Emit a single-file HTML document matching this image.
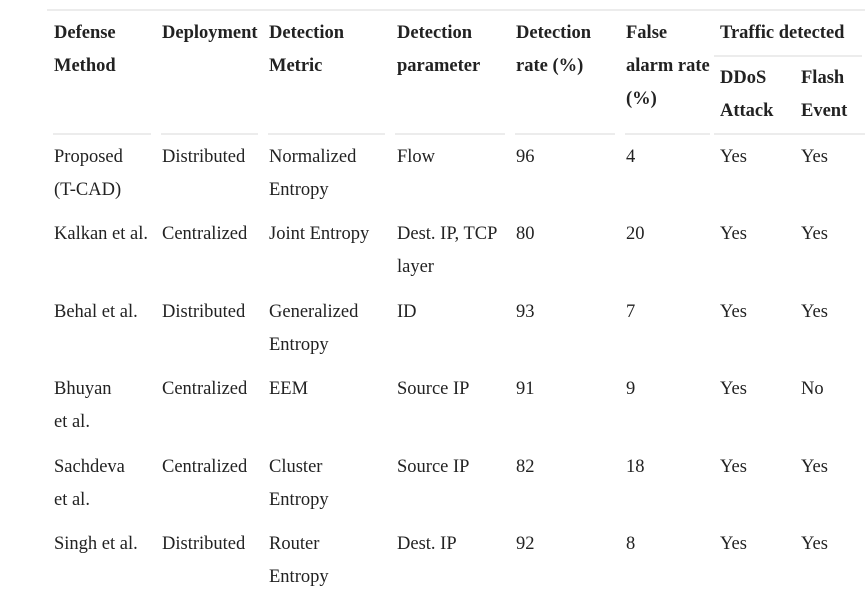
<!DOCTYPE html>
<html><head><meta charset="utf-8"><style>
body{margin:0;width:865px;height:597px;background:#fff;position:relative;overflow:hidden;font-family:"Liberation Serif",serif;font-size:18.5px;color:#222}
.t{position:absolute;line-height:33px;white-space:nowrap;margin-top:2px}
.h{font-weight:bold}
.l{position:absolute;height:2px;background:#ececec}
</style></head><body>
<div class="l" style="left:47px;top:9px;width:818px"></div>
<div class="l" style="left:714px;top:55px;width:148px"></div>
<div class="l" style="left:53px;top:133px;width:98px"></div>
<div class="l" style="left:161px;top:133px;width:97px"></div>
<div class="l" style="left:268px;top:133px;width:117px"></div>
<div class="l" style="left:395px;top:133px;width:110px"></div>
<div class="l" style="left:515px;top:133px;width:100px"></div>
<div class="l" style="left:625px;top:133px;width:85px"></div>
<div class="l" style="left:714px;top:133px;width:151px"></div>

<div class="t h" style="left:54px;top:15px">Defense<br>Method</div>
<div class="t h" style="left:162px;top:15px">Deployment</div>
<div class="t h" style="left:269px;top:15px">Detection<br>Metric</div>
<div class="t h" style="left:397px;top:15px">Detection<br>parameter</div>
<div class="t h" style="left:516px;top:15px">Detection<br>rate (%)</div>
<div class="t h" style="left:626px;top:15px">False<br>alarm rate<br>(%)</div>
<div class="t h" style="left:720px;top:15px">Traffic detected</div>
<div class="t h" style="left:720px;top:60px">DDoS<br>Attack</div>
<div class="t h" style="left:801px;top:60px">Flash<br>Event</div>

<div class="t" style="left:54px;top:139px">Proposed<br>(T-CAD)</div>
<div class="t" style="left:162px;top:139px">Distributed</div>
<div class="t" style="left:269px;top:139px">Normalized<br>Entropy</div>
<div class="t" style="left:397px;top:139px">Flow</div>
<div class="t" style="left:516px;top:139px">96</div>
<div class="t" style="left:626px;top:139px">4</div>
<div class="t" style="left:720px;top:139px">Yes</div>
<div class="t" style="left:801px;top:139px">Yes</div>

<div class="t" style="left:54px;top:216px">Kalkan et al.</div>
<div class="t" style="left:162px;top:216px">Centralized</div>
<div class="t" style="left:269px;top:216px">Joint Entropy</div>
<div class="t" style="left:397px;top:216px">Dest. IP, TCP<br>layer</div>
<div class="t" style="left:516px;top:216px">80</div>
<div class="t" style="left:626px;top:216px">20</div>
<div class="t" style="left:720px;top:216px">Yes</div>
<div class="t" style="left:801px;top:216px">Yes</div>

<div class="t" style="left:54px;top:294px">Behal et al.</div>
<div class="t" style="left:162px;top:294px">Distributed</div>
<div class="t" style="left:269px;top:294px">Generalized<br>Entropy</div>
<div class="t" style="left:397px;top:294px">ID</div>
<div class="t" style="left:516px;top:294px">93</div>
<div class="t" style="left:626px;top:294px">7</div>
<div class="t" style="left:720px;top:294px">Yes</div>
<div class="t" style="left:801px;top:294px">Yes</div>

<div class="t" style="left:54px;top:371px">Bhuyan<br>et al.</div>
<div class="t" style="left:162px;top:371px">Centralized</div>
<div class="t" style="left:269px;top:371px">EEM</div>
<div class="t" style="left:397px;top:371px">Source IP</div>
<div class="t" style="left:516px;top:371px">91</div>
<div class="t" style="left:626px;top:371px">9</div>
<div class="t" style="left:720px;top:371px">Yes</div>
<div class="t" style="left:801px;top:371px">No</div>

<div class="t" style="left:54px;top:449px">Sachdeva<br>et al.</div>
<div class="t" style="left:162px;top:449px">Centralized</div>
<div class="t" style="left:269px;top:449px">Cluster<br>Entropy</div>
<div class="t" style="left:397px;top:449px">Source IP</div>
<div class="t" style="left:516px;top:449px">82</div>
<div class="t" style="left:626px;top:449px">18</div>
<div class="t" style="left:720px;top:449px">Yes</div>
<div class="t" style="left:801px;top:449px">Yes</div>

<div class="t" style="left:54px;top:526px">Singh et al.</div>
<div class="t" style="left:162px;top:526px">Distributed</div>
<div class="t" style="left:269px;top:526px">Router<br>Entropy</div>
<div class="t" style="left:397px;top:526px">Dest. IP</div>
<div class="t" style="left:516px;top:526px">92</div>
<div class="t" style="left:626px;top:526px">8</div>
<div class="t" style="left:720px;top:526px">Yes</div>
<div class="t" style="left:801px;top:526px">Yes</div>
</body></html>
